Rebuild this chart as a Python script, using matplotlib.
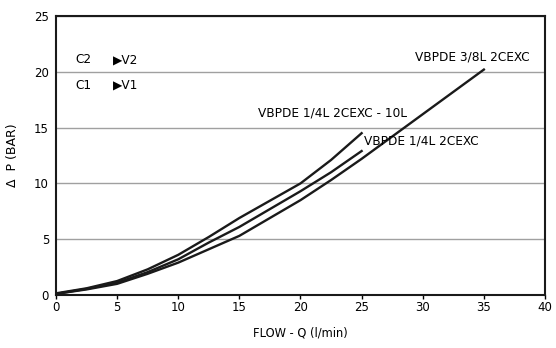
import matplotlib
matplotlib.use('Agg')
import matplotlib.pyplot as plt

# flow (l/min) and pressure drop (bar)
q_10l = [0, 2.5, 5, 7.5, 10, 12.5, 15, 17.5, 20, 22.5, 25]
dp_10l = [0.15, 0.6, 1.25, 2.3, 3.6, 5.2, 6.9, 8.45, 10.0, 12.1, 14.5]

q_14 = [0, 2.5, 5, 7.5, 10, 12.5, 15, 17.5, 20, 22.5, 25]
dp_14 = [0.1, 0.55, 1.1, 2.05, 3.2, 4.7, 6.1, 7.7, 9.3, 11.0, 12.9]

q_38 = [0, 2.5, 5, 7.5, 10, 12.5, 15, 17.5, 20, 22.5, 25, 27.5, 30, 32.5, 35]
dp_38 = [0.1, 0.5, 1.0, 1.9, 2.9, 4.1, 5.3, 6.9, 8.5, 10.3, 12.2, 14.2, 16.2, 18.2, 20.2]

xticks = [0, 5, 10, 15, 20, 25, 30, 35, 40]
yticks = [0, 5, 10, 15, 20, 25]

fig = plt.figure(figsize=(5.56, 3.48), dpi=100)
ax = fig.add_axes([0.1007, 0.1523, 0.8795, 0.8017])

ax.plot(q_10l, dp_10l, color='#1a1a1a', lw=1.7)
ax.plot(q_14, dp_14, color='#1a1a1a', lw=1.7)
ax.plot(q_38, dp_38, color='#1a1a1a', lw=1.7)

ax.set_xlim(0, 40)
ax.set_ylim(0, 25)
ax.set_xticks(xticks)
ax.set_yticks(yticks)
ax.yaxis.grid(True, color='#a0a0a0', lw=1)
ax.set_axisbelow(True)
ax.tick_params(axis='x', length=3, width=1, labelsize=8.5, pad=1.5)
ax.tick_params(axis='y', length=0, labelsize=8.5, pad=5)
for s in ax.spines.values():
    s.set_linewidth(1.5)
    s.set_color('#1a1a1a')

fs = 8.7
ax.text(29.4, 21.3, 'VBPDE 3/8L 2CEXC', fontsize=fs, va='center')
ax.text(16.5, 16.3, 'VBPDE 1/4L 2CEXC - 10L', fontsize=fs, va='center')
ax.text(25.2, 13.8, 'VBPDE 1/4L 2CEXC', fontsize=fs, va='center')
ax.text(1.55, 21.1, 'C2', fontsize=fs, va='center')
ax.text(4.7, 21.1, '\u25B6V2', fontsize=fs, va='center')
ax.text(1.55, 18.8, 'C1', fontsize=fs, va='center')
ax.text(4.7, 18.8, '\u25B6V1', fontsize=fs, va='center')

ax.set_xlabel('FLOW - Q (l/min)', fontsize=8.3, labelpad=9)
ax.set_ylabel('\u0394  P (BAR)', fontsize=9, labelpad=11)

fig.savefig('out.png', dpi=100)
